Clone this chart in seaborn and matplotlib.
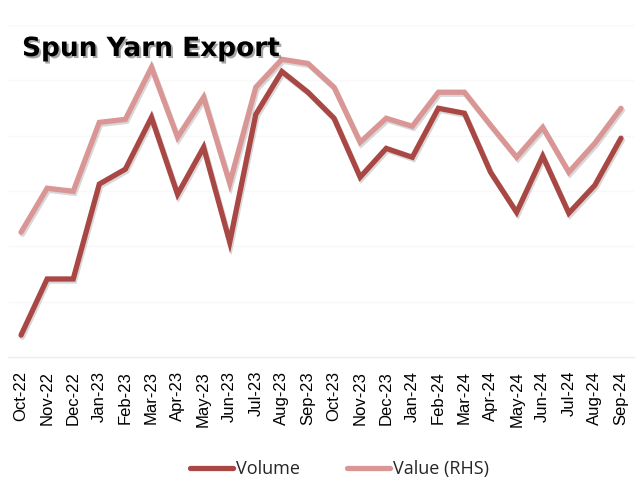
import matplotlib
matplotlib.use("Agg")
import matplotlib.pyplot as plt
import matplotlib.patheffects as pe
from matplotlib.lines import Line2D
import seaborn as sns
import pandas as pd

months = ["Oct-22", "Nov-22", "Dec-22", "Jan-23", "Feb-23", "Mar-23", "Apr-23", "May-23",
          "Jun-23", "Jul-23", "Aug-23", "Sep-23", "Oct-23", "Nov-23", "Dec-23", "Jan-24",
          "Feb-24", "Mar-24", "Apr-24", "May-24", "Jun-24", "Jul-24", "Aug-24", "Sep-24"]
volume = [7.9, 28.2, 28.2, 62.5, 67.9, 86.6, 58.8, 75.8, 41.5, 87.7, 103.2, 95.7,
          86.3, 65.0, 75.4, 72.2, 89.9, 88.1, 66.8, 52.3, 72.6, 52.0, 62.1, 79.1]
value_rhs = [45.1, 61.0, 59.9, 84.8, 85.9, 104.7, 79.4, 93.9, 62.8, 97.5, 107.6, 106.1,
             97.5, 77.6, 86.3, 83.4, 95.7, 95.7, 83.8, 72.2, 83.0, 66.8, 77.3, 89.9]
series_names = ["Volume", "Value (RHS)"]
colors = ["#A84744", "#D99694"]

df = pd.DataFrame({
    "Month": months * 2,
    "Val": volume + value_rhs,
    "Series": [series_names[0]] * len(months) + [series_names[1]] * len(months),
})

sns.set_theme(style="white")
plt.rcParams["font.family"] = ["Open Sans", "DejaVu Sans"]

fig = plt.figure(figsize=(6.4, 4.95), dpi=100)
ax = fig.add_axes([8 / 640, 1 - 357 / 495, 626 / 640, 332 / 495])

shadow = [pe.SimpleLineShadow(offset=(1, -1.5), shadow_color="gray", alpha=0.3), pe.Normal()]
palette = {series_names[0]: colors[0], series_names[1]: colors[1]}
sns.lineplot(data=df, x="Month", y="Val", hue="Series", palette=palette,
             hue_order=series_names[::-1], linewidth=3.8, ax=ax, legend=False, sort=False)
for ln in ax.lines:
    ln.set_path_effects(shadow)
    ln.set_solid_capstyle("round")
    ln.set_solid_joinstyle("miter")

ax.set_xlim(-0.5, len(months) - 0.5)
ax.set_ylim(0, 120)
ax.set_yticks([20, 40, 60, 80, 100, 120])
ax.yaxis.grid(True, color="#F8F8F8", linewidth=1)
ax.set_yticklabels([])
ax.tick_params(axis="y", length=0)
ax.set_xlabel("")
ax.set_ylabel("")
for s in ["top", "right", "left"]:
    ax.spines[s].set_visible(False)
ax.spines["bottom"].set_color("#EDEDED")
ax.spines["bottom"].set_linewidth(1)
ax.set_xticks(range(len(months)))
ax.set_xticklabels(months, rotation=90, fontsize=12, color="black", family="Liberation Sans")
ax.tick_params(axis="x", length=0, pad=10)

fig.text(22 / 640, 1 - 49 / 495, "Spun Yarn Export", fontsize=19, fontweight="bold",
         family="DejaVu Sans", color="black", va="center", ha="left",
         path_effects=[pe.withSimplePatchShadow(offset=(1.5, -1.5), alpha=0.35)])

handles = [Line2D([0], [0], color=colors[0], lw=3.8, solid_capstyle="round"),
           Line2D([0], [0], color=colors[1], lw=3.8, solid_capstyle="round")]
fig.legend(handles, series_names, loc="center", bbox_to_anchor=(0.53, 1 - 469 / 495),
           ncol=2, frameon=False, fontsize=13, handlelength=2.4, handletextpad=0.15,
           columnspacing=2.6)

fig.savefig("out.png", dpi=100)
